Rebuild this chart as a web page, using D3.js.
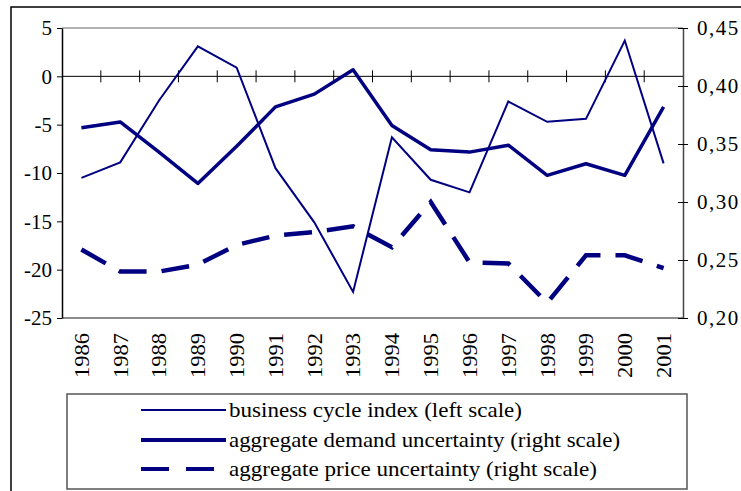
<!DOCTYPE html>
<html>
<head>
<meta charset="utf-8">
<title>business cycle and uncertainty</title>
<style>
  body {margin: 0; background: #fff;}
</style>
</head>
<body>
<div id="chart"></div>
<script src="https://d3js.org/d3.v7.min.js"></script>
<script>
// data
var years = ["1986","1987","1988","1989","1990","1991","1992","1993",
             "1994","1995","1996","1997","1998","1999","2000","2001"];
var businessCycle = [-10.5, -8.9, -2.5, 3.1, 0.9, -9.5, -15.1, -22.3,
                     -6.3, -10.7, -12.0, -2.6, -4.7, -4.4, 3.7, -9.0];
var demandUnc = [0.364, 0.369, 0.343, 0.316, 0.348, 0.382, 0.393, 0.414,
                 0.366, 0.345, 0.343, 0.349, 0.323, 0.333, 0.323, 0.382];
var priceUnc = [0.259, 0.240, 0.240, 0.246, 0.263, 0.271, 0.274, 0.279,
                0.261, 0.300, 0.248, 0.247, 0.213, 0.254, 0.254, 0.243];
var leftTicks = [5, 0, -5, -10, -15, -20, -25];
var rightTicks = [0.45, 0.40, 0.35, 0.30, 0.25, 0.20];
var legendLabels = ["business cycle index (left scale)",
                    "aggregate demand uncertainty (right scale)",
                    "aggregate price uncertainty (right scale)"];

var W = 741, H = 491;
var navy = "#000080";
var serif = "'Liberation Serif', 'DejaVu Serif', serif";
var plot = {left: 62, right: 683, top: 28, bottom: 318};

var svg = d3.select("#chart").append("svg")
    .attr("width", W).attr("height", H)
    .style("font-family", serif);

// outer frame
svg.append("rect")
    .attr("x", 11).attr("y", 7).attr("width", 760).attr("height", 520)
    .attr("fill", "none").attr("stroke", "#000").attr("stroke-width", 1.5);

var x = d3.scaleBand().domain(years).range([plot.left, plot.right]).padding(0);
var yL = d3.scaleLinear().domain([-25, 5]).range([plot.bottom, plot.top]);
var yR = d3.scaleLinear().domain([0.20, 0.45]).range([plot.bottom, plot.top]);

// plot borders top / bottom
svg.append("line")
    .attr("x1", plot.left).attr("x2", plot.right)
    .attr("y1", plot.top).attr("y2", plot.top)
    .attr("stroke", "#999").attr("stroke-width", 1.5);
svg.append("line")
    .attr("x1", plot.left).attr("x2", plot.right)
    .attr("y1", plot.bottom).attr("y2", plot.bottom)
    .attr("stroke", "#666").attr("stroke-width", 1.5);

// left axis
var gl = svg.append("g").attr("transform", "translate(" + plot.left + ",0)")
    .call(d3.axisLeft(yL).tickValues(leftTicks).tickSize(5).tickSizeOuter(0)
        .tickFormat(function(d) { return String(d); }));
gl.attr("font-family", serif);
gl.select(".domain").attr("stroke", "#000").attr("stroke-width", 1.5);
gl.selectAll(".tick line").attr("stroke", "#000");
gl.selectAll(".tick text").attr("font-size", 21).attr("x", -10)
    .attr("font-family", serif);

// right axis
var gr = svg.append("g").attr("transform", "translate(" + plot.right + ",0)")
    .call(d3.axisRight(yR).tickValues(rightTicks).tickSize(5).tickSizeOuter(0)
        .tickFormat(function(d) { return d.toFixed(2).replace(".", ","); }));
gr.attr("font-family", serif);
gr.select(".domain").attr("stroke", "#444").attr("stroke-width", 1.5);
gr.selectAll(".tick line").attr("stroke", "#000").attr("x1", -5);
gr.selectAll(".tick text").attr("font-size", 21).attr("x", 14)
    .attr("font-family", serif)
    .attr("letter-spacing", 1.5);

// x axis at zero
var y0 = yL(0);
svg.append("line")
    .attr("x1", plot.left).attr("x2", plot.right)
    .attr("y1", y0).attr("y2", y0)
    .attr("stroke", "#000").attr("stroke-width", 1);
svg.append("g").selectAll("line")
    .data(years.slice(1))
    .join("line")
    .attr("x1", function(d) { return x(d); })
    .attr("x2", function(d) { return x(d); })
    .attr("y1", y0 - 6).attr("y2", y0 + 6)
    .attr("stroke", "#000");

// year labels, rotated
svg.append("g").selectAll("text")
    .data(years)
    .join("text")
    .attr("transform", function(d) {
        return "translate(" + (x(d) + x.bandwidth() / 2) + ",333) rotate(-90)";
    })
    .attr("text-anchor", "end")
    .attr("dy", "0.35em")
    .attr("font-family", serif)
    .attr("font-size", 21)
    .attr("textLength", 45)
    .attr("lengthAdjust", "spacingAndGlyphs")
    .text(function(d) { return d; });

// lines
var cx = function(i) { return x(years[i]) + x.bandwidth() / 2; };

var lineL = d3.line().x(function(d, i) { return cx(i); }).y(function(d) { return yL(d); });
var lineR = d3.line().x(function(d, i) { return cx(i); }).y(function(d) { return yR(d); });

svg.append("path").datum(priceUnc)
    .attr("d", lineR).attr("fill", "none")
    .attr("stroke", navy).attr("stroke-width", 4.5)
    .attr("stroke-dasharray", "28,15");

svg.append("path").datum(demandUnc)
    .attr("d", lineR).attr("fill", "none")
    .attr("stroke", navy).attr("stroke-width", 3.5)
    .attr("stroke-linejoin", "round");

svg.append("path").datum(businessCycle)
    .attr("d", lineL).attr("fill", "none")
    .attr("stroke", navy).attr("stroke-width", 2);

// legend
var lg = svg.append("g");
lg.append("rect")
    .attr("x", 67).attr("y", 394).attr("width", 620).attr("height", 95)
    .attr("fill", "#fff").attr("stroke", "#555").attr("stroke-width", 1.5);

var styles = [
    {w: 2, dash: null},
    {w: 4, dash: null},
    {w: 4, dash: "28,17"}
];
var rows = [410, 440, 469];
var textLens = [293, 391, 368];

legendLabels.forEach(function(label, i) {
    lg.append("line")
        .attr("x1", 141).attr("x2", 226)
        .attr("y1", rows[i]).attr("y2", rows[i])
        .attr("stroke", navy).attr("stroke-width", styles[i].w)
        .attr("stroke-dasharray", styles[i].dash);
    lg.append("text")
        .attr("x", 229).attr("y", rows[i]).attr("dy", "0.35em")
        .attr("font-family", serif)
        .attr("font-size", 21)
        .attr("textLength", textLens[i])
        .attr("lengthAdjust", "spacingAndGlyphs")
        .text(label);
});
</script>
</body>
</html>
